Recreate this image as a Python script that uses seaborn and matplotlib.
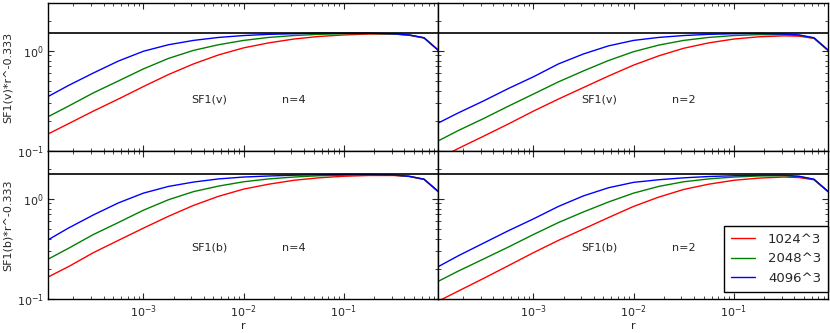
import matplotlib
matplotlib.use("Agg")
import matplotlib.pyplot as plt
import pandas as pd
import seaborn as sns

# separation r (x axis), shared by all panels
r = [1.12e-4, 1.78e-4, 3.16e-4, 5.62e-4, 1.0e-3, 1.78e-3, 3.16e-3, 5.62e-3, 1.0e-2,
     1.78e-2, 3.16e-2, 5.62e-2, 0.1, 0.178, 0.316, 0.447, 0.631, 0.871]

resolutions = ["1024^3", "2048^3", "4096^3"]
colors = ["red", "green", "blue"]

# SF1(v), n=4
v4_1024 = [0.148, 0.187, 0.25, 0.33, 0.44, 0.58, 0.74, 0.91, 1.07, 1.20, 1.31, 1.39, 1.44, 1.47, 1.47, 1.43, 1.34, 1.01]
v4_2048 = [0.22, 0.28, 0.38, 0.50, 0.66, 0.84, 1.01, 1.15, 1.27, 1.36, 1.42, 1.46, 1.48, 1.49, 1.47, 1.44, 1.35, 1.02]
v4_4096 = [0.35, 0.45, 0.60, 0.79, 0.99, 1.15, 1.27, 1.36, 1.42, 1.46, 1.48, 1.50, 1.50, 1.50, 1.48, 1.44, 1.35, 1.02]

# SF1(v), n=2
v2_1024 = [0.083, 0.106, 0.14, 0.186, 0.25, 0.33, 0.43, 0.56, 0.72, 0.89, 1.06, 1.20, 1.31, 1.38, 1.41, 1.40, 1.33, 1.01]
v2_2048 = [0.126, 0.16, 0.21, 0.28, 0.37, 0.49, 0.63, 0.80, 0.98, 1.14, 1.27, 1.36, 1.42, 1.45, 1.45, 1.43, 1.34, 1.01]
v2_4096 = [0.19, 0.24, 0.315, 0.42, 0.55, 0.74, 0.93, 1.12, 1.27, 1.36, 1.42, 1.46, 1.48, 1.49, 1.47, 1.44, 1.35, 1.02]

# SF1(b), n=4
b4_1024 = [0.166, 0.21, 0.29, 0.385, 0.51, 0.67, 0.86, 1.06, 1.25, 1.40, 1.53, 1.62, 1.68, 1.71, 1.71, 1.67, 1.56, 1.18]
b4_2048 = [0.25, 0.32, 0.44, 0.58, 0.77, 0.98, 1.18, 1.34, 1.48, 1.58, 1.65, 1.70, 1.72, 1.74, 1.72, 1.68, 1.57, 1.19]
b4_4096 = [0.39, 0.51, 0.69, 0.91, 1.14, 1.33, 1.47, 1.58, 1.65, 1.69, 1.72, 1.74, 1.75, 1.75, 1.73, 1.68, 1.57, 1.19]

# SF1(b), n=2
b2_1024 = [0.095, 0.12, 0.16, 0.215, 0.29, 0.385, 0.50, 0.65, 0.84, 1.04, 1.24, 1.40, 1.53, 1.61, 1.65, 1.63, 1.55, 1.18]
b2_2048 = [0.15, 0.19, 0.25, 0.33, 0.44, 0.58, 0.74, 0.93, 1.14, 1.33, 1.48, 1.58, 1.65, 1.69, 1.70, 1.67, 1.56, 1.18]
b2_4096 = [0.21, 0.27, 0.36, 0.48, 0.63, 0.84, 1.07, 1.29, 1.46, 1.55, 1.62, 1.67, 1.70, 1.72, 1.72, 1.68, 1.57, 1.19]

# plateau reference lines
ref_v = 1.5
ref_b = 1.78

panels = [
    (0, 0, [v4_1024, v4_2048, v4_4096], "SF1(v)", "n=4", ref_v),
    (0, 1, [v2_1024, v2_2048, v2_4096], "SF1(v)", "n=2", ref_v),
    (1, 0, [b4_1024, b4_2048, b4_4096], "SF1(b)", "n=4", ref_b),
    (1, 1, [b2_1024, b2_2048, b2_4096], "SF1(b)", "n=2", ref_b),
]

sns.set_style("ticks", {"xtick.direction": "in", "ytick.direction": "in"})
plt.rcParams["font.family"] = ["DejaVu Sans"]

fig, axes = plt.subplots(2, 2, figsize=(8.3, 3.33), dpi=100, sharex=True, sharey=True)
fig.subplots_adjust(left=0.058, right=0.9976, top=0.991, bottom=0.102, wspace=0, hspace=0)

pal = dict(zip(resolutions, colors))

for row, col, series, name, nlab, ref in panels:
    ax = axes[row, col]
    df = pd.DataFrame({
        "r": r * 3,
        "sf": series[0] + series[1] + series[2],
        "res": [resolutions[0]] * len(r) + [resolutions[1]] * len(r) + [resolutions[2]] * len(r),
    })
    show_leg = (row == 1 and col == 1)
    sns.lineplot(data=df, x="r", y="sf", hue="res", hue_order=resolutions, palette=pal,
                 estimator=None, linewidth=1, ax=ax, legend=show_leg)
    ax.axhline(ref, color="black", linewidth=1.2)
    ax.set_xscale("log")
    ax.set_yscale("log")
    ax.text(0.366, 0.345, name, transform=ax.transAxes, fontsize=8, va="center")
    ax.text(0.60, 0.345, nlab, transform=ax.transAxes, fontsize=8, va="center")
    ax.tick_params(which="both", top=True, right=True, direction="in", labelsize=8, pad=3)
    ax.tick_params(which="major", length=4)
    ax.tick_params(which="minor", length=2)
    for s in ax.spines.values():
        s.set_color("black")
        s.set_linewidth(1)
    ax.set_xlabel("r" if row == 1 else "", fontsize=8, labelpad=1)
    if col == 0:
        ax.set_ylabel("SF1(v)*r^-0.333" if row == 0 else "SF1(b)*r^-0.333", fontsize=8, labelpad=3)
    else:
        ax.set_ylabel("")

axes[0, 0].set_xlim(1.12e-4, 0.871)
axes[0, 0].set_ylim(0.1, 3.0)

sns.move_legend(axes[1, 1], "lower right", bbox_to_anchor=(1.0, 0.05), title=None,
                frameon=True, fancybox=False, framealpha=1, edgecolor="black",
                fontsize=9.5, handlelength=1.8, handletextpad=1.0, borderpad=0.5,
                borderaxespad=0)

fig.savefig("out.png", dpi=100)
